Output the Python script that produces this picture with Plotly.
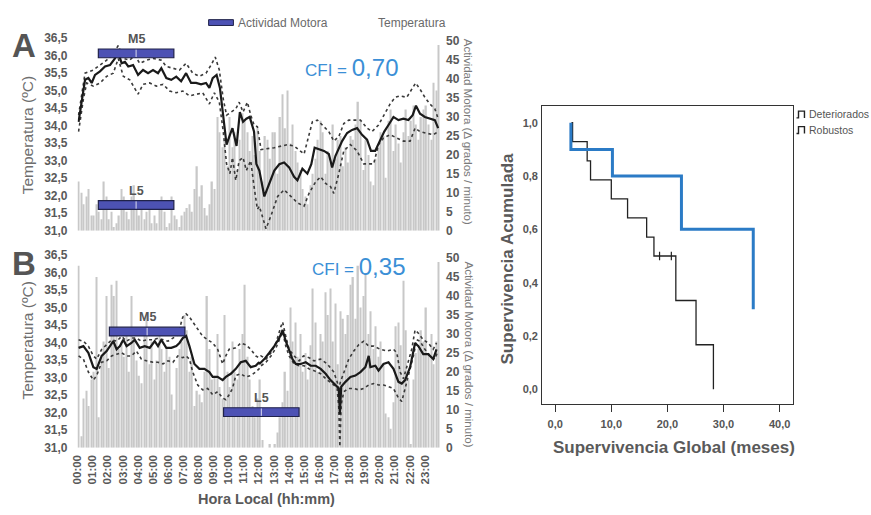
import plotly.graph_objects as go

W, H = 871, 515
def px(x): return x / W
def py(y): return 1 - y / H

FONT = "Liberation Sans, Arial, sans-serif"

# ---------------- DATA ----------------
hour_labels = ["00:00", "01:00", "02:00", "03:00", "04:00", "05:00", "06:00", "07:00",
               "08:00", "09:00", "10:00", "11:00", "12:00", "13:00", "14:00", "15:00",
               "16:00", "17:00", "18:00", "19:00", "20:00", "21:00", "22:00", "23:00"]

# motor activity (grados/minuto), 10-min slots, panel A
act_a = [13, 10, 7, 9, 11, 4,   4, 7, 5, 3, 13, 9,   3, 5, 1, 2, 4, 11,   9, 5, 3, 9, 12, 7,
         4, 6, 3, 5, 7, 2,      4, 2, 6, 9, 5, 1,    2, 9, 4, 3, 1, 4,    5, 6, 7, 5, 11, 17,
         9, 12, 6, 4, 7, 13,    11, 30, 26, 22, 24, 17,  30, 22, 26, 16, 24, 31,  29, 26, 21, 25, 20, 27,
         21, 13, 25, 24, 19, 26,  26, 15, 30, 36, 27, 37,  23, 28, 21, 18, 16, 11,  9, 7, 12, 15, 19, 24,
         29, 26, 15, 21, 18, 28,  19, 24, 25, 17, 22, 18,  25, 24, 28, 34, 29, 16,  24, 20, 13, 12, 19, 22,
         26, 25, 14, 29, 32, 21,  28, 23, 18, 26, 32, 25,  29, 33, 28, 24, 30, 32,  33, 28, 24, 39, 37, 49]

# motor activity, panel B
act_b = [48, 3, 13, 15, 11, 18,  20, 45, 8, 24, 28, 40,  21, 43, 40, 44, 26, 28,  24, 31, 20, 40, 29, 23,
         19, 17, 30, 35, 22, 28,  18, 23, 30, 26, 20, 26,  24, 14, 10, 21, 26, 28,  35, 31, 20, 24, 11, 15,
         14, 12, 20, 40, 26, 18,  19, 30, 16, 13, 35, 20,  16, 28, 20, 18, 26, 30,  43, 24, 18, 11, 8, 13,
         18, 2, 0, 0, 1, 0,       1, 4, 8, 12, 20, 15,     37, 28, 33, 24, 30, 20,  25, 18, 27, 42, 33, 20,
         30, 28, 41, 35, 42, 28,  38, 22, 36, 34, 30, 35,  43, 45, 34, 48, 37, 40,  46, 30, 36, 26, 32, 24,
         28, 22, 9, 8, 5, 12,     32, 33, 27, 44, 31, 18,  1, 18, 25, 26, 31, 28,   37, 25, 30, 22, 28, 49]

# Panel A temperature: mean, upper and lower band (hour, degC)
a_mean_h = [0.07, 0.29, 0.50, 0.72, 0.94, 1.16, 1.49, 1.82, 2.15, 2.48, 2.70, 2.92, 3.14, 3.36, 3.68,
            4.01, 4.34, 4.67, 5.00, 5.33, 5.55, 5.88, 6.21, 6.54, 6.86, 7.19, 7.52, 7.85, 8.18, 8.51,
            8.73, 8.95, 9.21, 9.43, 9.65, 9.87, 10.09, 10.26, 10.53, 10.75, 10.96, 11.18, 11.40, 11.69, 11.84,
            12.04, 12.37, 12.70, 13.03, 13.36, 13.68, 14.01, 14.34, 14.56, 14.89, 15.22, 15.48, 15.70, 15.99,
            16.32, 16.64, 16.86, 17.08, 17.30, 17.52, 17.85, 18.18, 18.51, 18.84, 19.17, 19.43, 19.71, 20.00,
            20.31, 20.59, 20.92, 21.25, 21.58, 21.91, 22.19, 22.41, 22.68, 23.00, 23.33, 23.66, 23.88]
a_mean_t = [34.11, 34.67, 35.31, 35.36, 35.22, 35.45, 35.55, 35.69, 35.73, 35.92, 36.10, 35.78, 35.82, 35.69, 35.73,
            35.45, 35.59, 35.50, 35.59, 35.50, 35.64, 35.36, 35.31, 35.40, 35.27, 35.50, 35.22, 35.22, 35.18, 35.22,
            35.08, 35.36, 35.45, 35.08, 34.30, 33.46, 33.74, 33.93, 33.42, 34.39, 34.11, 34.20, 34.25, 33.83, 32.91,
            32.72, 31.98, 32.35, 32.72, 32.90, 32.95, 32.81, 32.54, 32.44, 32.77, 32.63, 32.90, 33.37, 33.32,
            33.28, 33.19, 32.81, 33.14, 33.37, 33.56, 33.79, 33.88, 33.93, 33.74, 33.60, 33.28, 33.28, 33.56,
            33.83, 34.02, 34.25, 34.16, 34.20, 34.16, 34.30, 34.57, 34.34, 34.25, 34.20, 34.16, 33.93]
a_up_h = [0.07, 0.50, 1.05, 1.49, 1.93, 2.37, 2.70, 3.03, 3.46, 3.79, 4.12, 4.56, 5.00, 5.55, 5.88, 6.32, 6.75,
          7.19, 7.63, 8.07, 8.51, 8.84, 9.12, 9.39, 9.65, 9.87, 10.15, 10.48, 10.70, 10.96, 11.25, 11.47, 11.69, 11.91,
          12.15, 13.03, 13.90, 14.34, 15.00, 15.55, 15.88, 16.32, 16.64, 16.97, 17.30, 17.63, 17.96, 18.29, 18.73,
          19.17, 19.50, 19.93, 20.37, 20.70, 21.03, 21.36, 21.80, 22.13, 22.39, 22.68, 23.00, 23.33, 23.66, 23.88]
a_up_t = [34.30, 35.50, 35.59, 35.73, 35.87, 36.06, 36.29, 35.92, 35.87, 36.01, 35.78, 35.87, 35.92, 35.87, 35.69, 35.64, 35.59,
          35.78, 35.50, 35.41, 35.50, 35.73, 35.96, 35.59, 34.76, 34.30, 34.39, 34.48, 34.67, 34.39, 34.67, 34.30, 34.02, 33.97,
          33.32, 33.37, 33.46, 33.42, 33.19, 34.11, 34.16, 33.97, 33.83, 33.56, 33.69, 34.06, 34.16, 34.16, 34.16,
          33.93, 33.83, 34.02, 34.39, 34.62, 34.81, 34.85, 34.81, 35.04, 35.22, 35.04, 34.81, 34.62, 34.48, 34.20]
a_lo_h = [0.07, 0.39, 0.61, 1.05, 1.49, 1.93, 2.37, 2.70, 3.03, 3.46, 4.01, 4.34, 4.78, 5.22, 5.66, 6.10, 6.54, 6.97,
          7.41, 7.85, 8.29, 8.73, 9.06, 9.39, 9.65, 9.87, 10.09, 10.26, 10.48, 10.70, 10.96, 11.18, 11.47, 11.69, 11.91,
          12.04, 12.48, 12.81, 13.25, 13.68, 14.12, 14.56, 15.00, 15.33, 15.77, 16.10, 16.43, 16.75, 16.97, 17.30, 17.63,
          18.07, 18.51, 18.95, 19.28, 19.61, 19.93, 20.26, 20.70, 21.14, 21.58, 22.02, 22.35, 22.68, 23.11, 23.55, 23.88]
a_lo_t = [33.83, 34.76, 35.22, 35.13, 35.22, 35.41, 35.50, 35.92, 35.41, 35.31, 34.90, 35.18, 35.22, 35.13, 35.18, 34.99, 34.94, 34.99,
          34.85, 34.90, 34.94, 34.62, 34.94, 34.67, 33.83, 32.91, 32.63, 33.09, 32.44, 33.00, 33.09, 32.72, 33.00, 32.26, 31.61,
          31.70, 31.06, 31.43, 31.98, 32.17, 31.98, 31.80, 31.70, 32.07, 32.40, 32.54, 32.35, 32.26, 32.07, 32.63, 33.28,
          33.46, 33.28, 32.91, 32.91, 32.91, 33.46, 33.65, 33.74, 33.65, 33.56, 33.56, 33.93, 33.83, 33.79, 33.74, 33.83]

# Panel B temperature
b_mean_h = [0.07, 0.39, 0.72, 1.05, 1.27, 1.60, 1.93, 2.15, 2.37, 2.59, 2.81, 3.03, 3.25, 3.57, 3.79, 4.12, 4.45,
            4.78, 5.11, 5.33, 5.55, 5.88, 6.21, 6.54, 6.75, 6.97, 7.19, 7.41, 7.74, 8.07, 8.40, 8.73, 8.95, 9.28,
            9.61, 9.82, 10.15, 10.48, 10.81, 11.14, 11.47, 11.80, 12.02,
            12.04, 12.37, 12.70, 13.03, 13.36, 13.58, 13.79, 14.01, 14.23, 14.45, 14.78, 15.11, 15.44, 15.77,
            16.10, 16.43, 16.75, 17.08, 17.30, 17.37, 17.46, 17.74, 18.07, 18.40, 18.73, 19.06, 19.28, 19.39,
            19.72, 19.93, 20.26, 20.59, 20.92, 21.25, 21.47, 21.69, 22.02, 22.35, 22.57, 22.89, 23.22, 23.55, 23.77]
b_mean_t = [33.85, 33.90, 33.71, 33.30, 33.25, 33.62, 33.76, 33.90, 34.04, 33.81, 33.90, 34.08, 33.90, 33.99, 34.08, 33.85, 33.90,
            33.85, 34.04, 33.90, 34.08, 33.85, 33.85, 33.90, 33.99, 34.13, 34.19, 33.90, 33.39, 33.25, 33.25, 33.16, 33.02, 33.02,
            32.93, 33.02, 33.11, 33.25, 33.44, 33.48, 33.30, 33.34, 33.44,
            33.39, 33.53, 33.71, 33.90, 34.13, 34.36, 34.04, 33.81, 33.53, 33.39, 33.39, 33.44, 33.34, 33.34,
            33.25, 33.11, 32.93, 32.79, 32.69, 31.95, 32.74, 32.88, 33.02, 33.06, 33.16, 33.30, 33.62, 33.30,
            33.34, 33.20, 33.39, 33.44, 33.25, 32.88, 32.83, 32.93, 33.30, 33.99, 33.90, 33.67, 33.67, 33.53, 33.81]
b_up_h = [0.07, 0.39, 0.72, 1.05, 1.27, 1.60, 1.93, 2.26, 2.59, 2.92, 3.25, 3.57, 3.90, 4.23, 4.56, 5.00, 5.33, 5.66,
          5.99, 6.32, 6.64, 6.97, 7.19, 7.41, 7.63, 7.96, 8.29, 8.62, 8.95, 9.28, 9.61, 9.82, 10.04, 10.48, 10.81, 11.14,
          11.47, 11.80, 12.02,
          12.15, 12.48, 12.81, 13.14, 13.46, 13.58, 13.79, 14.01, 14.34, 14.67, 14.96, 15.33, 15.66, 16.10, 16.54, 16.97,
          17.19, 17.30, 17.41, 17.63, 17.96, 18.29, 18.62, 18.95, 19.28, 19.61, 20.04, 20.48, 20.92, 21.14, 21.36, 21.58,
          21.80, 22.13, 22.35, 22.57, 22.89, 23.22, 23.55, 23.77]
b_up_t = [34.08, 34.04, 33.90, 33.62, 33.53, 33.81, 33.94, 34.08, 34.04, 34.18, 34.04, 34.13, 34.13, 34.04, 34.08, 34.08, 34.13, 34.08,
          34.04, 34.13, 34.22, 34.73, 34.82, 34.73, 34.59, 34.36, 34.18, 34.08, 33.99, 33.81, 33.39, 33.62, 33.81, 33.85, 33.99, 33.94,
          33.81, 33.62, 33.57,
          33.62, 33.53, 33.71, 33.99, 34.45, 34.59, 34.18, 33.81, 33.62, 33.48, 33.62, 33.57, 33.48, 33.53, 33.39, 33.16,
          32.88, 32.69, 32.88, 33.16, 33.53, 33.76, 33.94, 34.04, 33.90, 33.90, 33.81, 33.76, 33.81, 33.71, 33.16, 32.97,
          33.34, 33.81, 34.36, 34.27, 34.08, 33.99, 33.81, 33.99]
b_lo_h = [0.07, 0.39, 0.72, 1.05, 1.27, 1.60, 1.93, 2.26, 2.59, 2.92, 3.25, 3.57, 3.90, 4.23, 4.56, 5.00, 5.33, 5.66,
          5.99, 6.32, 6.64, 6.97, 7.19, 7.41, 7.63, 7.96, 8.29, 8.62, 8.95, 9.28, 9.61, 9.82, 10.04, 10.26, 10.48, 10.81,
          11.14, 11.47, 11.80, 12.02,
          12.15, 12.48, 12.81, 13.14, 13.46, 13.58, 13.79, 14.01, 14.34, 14.67, 15.00, 15.33, 15.66, 16.10, 16.54, 16.97,
          17.19, 17.30, 17.37, 17.46, 17.63, 17.96, 18.29, 18.62, 18.95, 19.28, 19.61, 19.93, 20.26, 20.59, 20.92, 21.25,
          21.47, 21.69, 21.91, 22.24, 22.46, 22.68, 23.00, 23.33, 23.66, 23.82]
b_lo_t = [33.62, 33.53, 33.16, 32.93, 33.06, 33.44, 33.48, 33.62, 33.67, 33.71, 33.62, 33.62, 33.76, 33.53, 33.48, 33.44, 33.44, 33.39,
          33.48, 33.44, 33.62, 33.57, 33.62, 33.53, 33.16, 32.79, 32.65, 32.69, 32.51, 32.60, 32.42, 32.37, 32.51, 32.69, 33.06, 33.11,
          33.02, 33.06, 33.16, 33.25,
          33.34, 33.44, 33.62, 33.85, 34.18, 34.31, 33.90, 33.62, 33.39, 33.34, 33.34, 33.25, 33.20, 33.11, 32.93, 32.79,
          32.69, 32.14, 31.03, 32.23, 32.60, 32.69, 32.69, 32.65, 32.69, 32.79, 32.83, 32.79, 32.79, 32.74, 32.69, 32.42,
          32.32, 32.69, 33.06, 33.62, 34.08, 34.04, 33.81, 33.62, 33.53, 33.71]

# M5 / L5 window start hours (5-hour windows)
m5_start = {"A": 1.38, "B": 2.11}
l5_start = {"A": 1.38, "B": 9.67}
window_len = 5.0
cfi = {"A": "0,70", "B": "0,35"}

# Kaplan-Meier curves (months, cumulative survival)
det_t = [2.9, 3.1, 5.7, 6.3, 10.0, 12.9, 16.3, 17.6, 21.5, 25.1, 28.2]
det_s = [1.0, 0.929, 0.857, 0.786, 0.714, 0.643, 0.571, 0.5, 0.333, 0.167, 0.0]
det_cens_t = [18.6, 20.7]
det_cens_s = [0.5, 0.5]
rob_t = [2.8, 2.8, 10.2, 22.5, 35.3]
rob_s = [1.0, 0.9, 0.8, 0.6, 0.3]

# ---------------- FIGURE ----------------
slot_hours = [i / 6 + 1 / 12 for i in range(len(act_a))]
BAR_C = "#c8c8c8"
fig = go.Figure()

def add_panel(acts, mh, mt, uh, ut, lh, lt, xa, ybar, ytemp):
    fig.add_trace(go.Bar(x=slot_hours, y=acts, xaxis=xa, yaxis=ybar, width=0.09,
                         marker=dict(color=BAR_C, line=dict(width=0)), showlegend=False))
    for hh, tt in ((uh, ut), (lh, lt)):
        fig.add_trace(go.Scatter(x=hh, y=tt, xaxis=xa, yaxis=ytemp, mode="lines",
                                 line=dict(color="#3a3a3a", width=1.6, dash="dot"), showlegend=False))
    fig.add_trace(go.Scatter(x=mh, y=mt, xaxis=xa, yaxis=ytemp, mode="lines",
                             line=dict(color="#1a1a1a", width=2.2), showlegend=False))

add_panel(act_a, a_mean_h, a_mean_t, a_up_h, a_up_t, a_lo_h, a_lo_t, "x", "y", "y2")
add_panel(act_b, b_mean_h, b_mean_t, b_up_h, b_up_t, b_lo_h, b_lo_t, "x2", "y3", "y4")

# KM
fig.add_trace(go.Scatter(x=det_t, y=det_s, xaxis="x3", yaxis="y5", mode="lines", line_shape="hv",
                         line=dict(color="#222222", width=1.3), showlegend=False))
fig.add_trace(go.Scatter(x=det_cens_t, y=det_cens_s, xaxis="x3", yaxis="y5", mode="markers",
                         marker=dict(symbol="line-ns", size=6, line=dict(color="#222222", width=1.2)),
                         showlegend=False))
fig.add_trace(go.Scatter(x=rob_t, y=rob_s, xaxis="x3", yaxis="y5", mode="lines", line_shape="hv",
                         line=dict(color="#2b7bc6", width=3), showlegend=False))

TICK = dict(family=FONT, size=12, color="#595959", weight="bold")
common = dict(showgrid=False, zeroline=False, showline=False)

layout = dict(
    width=W, height=H, autosize=False, margin=dict(l=0, r=0, t=0, b=0),
    paper_bgcolor="white", plot_bgcolor="rgba(0,0,0,0)", separators=", ",
    barmode="overlay", font=dict(family=FONT),
    xaxis=dict(domain=[px(72), px(437)], range=[0, 24], anchor="y", showticklabels=False, ticks="", **common),
    yaxis=dict(domain=[py(230), py(32)], range=[0, 50.8], side="right", anchor="x",
               tickvals=list(range(0, 55, 5)), tickfont=TICK, ticks="", ticklabelstandoff=5, **common),
    yaxis2=dict(overlaying="y", side="left", range=[31, 36.5], anchor="x",
                tickvals=[31 + 0.5 * k for k in range(12)], tickformat=".1f", tickfont=TICK,
                ticks="", ticklabelstandoff=9, **common),
    xaxis2=dict(domain=[px(72), px(437)], range=[0, 24], anchor="y3", tickvals=list(range(24)),
                ticktext=hour_labels, tickangle=-90, tickfont=dict(family=FONT, size=11.5, color="#595959", weight="bold"),
                ticks="", ticklabelstandoff=4, **common),
    yaxis3=dict(domain=[py(453), py(255)], range=[0, 50.8], side="right", anchor="x2",
                tickvals=list(range(0, 55, 5)), tickfont=TICK, ticks="", ticklabelstandoff=5, **common),
    yaxis4=dict(overlaying="y3", side="left", range=[31, 36.5], anchor="x2",
                tickvals=[31 + 0.5 * k for k in range(12)], tickformat=".1f", tickfont=TICK,
                ticks="", ticklabelstandoff=9, **common),
    xaxis3=dict(domain=[px(540), px(792)], range=[-2.3, 42.3], anchor="y5", tickvals=[0, 10, 20, 30, 40],
                tickformat=".1f", ticks="outside", ticklen=7, tickcolor="#333", tickwidth=1.2,
                tickfont=dict(family=FONT, size=11, color="#555", weight="bold"), ticklabelstandoff=3,
                showline=True, mirror=True, linecolor="#333", linewidth=1.2, showgrid=False, zeroline=False),
    yaxis5=dict(domain=[py(408), py(102)], range=[-0.055, 1.062], anchor="x3", tickvals=[0, 0.2, 0.4, 0.6, 0.8, 1.0],
                tickformat=".1f", ticks="", ticklabelstandoff=1,
                tickfont=dict(family=FONT, size=11, color="#555", weight="bold"),
                showline=True, mirror=True, linecolor="#333", linewidth=1.2, showgrid=False, zeroline=False),
)
fig.update_layout(**layout)

shapes = []
annots = []
BAR_FILL = "#4d52b4"
BAR_EDGE = "#20224a"

def note(**kw):
    d = dict(showarrow=False, xanchor="center", yanchor="middle")
    d.update(kw)
    annots.append(d)

# M5 / L5 bars in temperature coordinates (position only)
bar_specs = [
    ("A", "M5", m5_start["A"], 35.94, "x", "y2"),
    ("A", "L5", l5_start["A"], 31.61, "x", "y2"),
    ("B", "M5", m5_start["B"], 34.19, "x2", "y4"),
    ("B", "L5", l5_start["B"], 31.89, "x2", "y4"),
]
for panel, lab, x0, y0, xr, yr in bar_specs:
    x1 = x0 + window_len
    shapes.append(dict(type="rect", xref=xr, yref=yr, x0=x0, x1=x1, y0=y0, y1=y0 + 0.25,
                       fillcolor=BAR_FILL, line=dict(color=BAR_EDGE, width=1.2), layer="above"))
    xm = (x0 + x1) / 2
    shapes.append(dict(type="line", xref=xr, yref=yr, x0=xm, x1=xm, y0=y0 + 0.02, y1=y0 + 0.23,
                       line=dict(color="rgba(255,255,255,0.8)", width=1), layer="above"))
    note(xref=xr, yref=yr, x=xm, y=y0 + 0.25, text=lab, yanchor="bottom", yshift=1,
         font=dict(family=FONT, size=12.5, color="#555", weight="bold"))

# panel letters
for lab, y in (("A", 40), ("B", 264)):
    note(xref="paper", yref="paper", x=px(18), y=py(y), text=lab,
         font=dict(family=FONT, size=33, color="#555", weight="bold"))
# CFI
for key, x, y in (("A", 299, 62), ("B", 306, 267)):
    note(xref="paper", yref="paper", x=px(x), y=py(y), xanchor="left",
         text="CFI = <span style='font-size:24px'>" + cfi[key] + "</span>",
         font=dict(family=FONT, size=17, color="#3b8fd6"))
# Y titles
for yc in (131, 342):
    note(xref="paper", yref="paper", x=px(22), y=py(yc), text="Temperatura (ºC)", textangle=-90,
         font=dict(family=FONT, size=15.5, color="#6e6e6e"))
for yc in (128, 357):
    note(xref="paper", yref="paper", x=px(466), y=py(yc), text="Actividad Motora (Δ grados / minuto)",
         textangle=90, font=dict(family=FONT, size=11.5, color="#7a7a7a"))
note(xref="paper", yref="paper", x=px(262), y=py(506), text="Hora Local (hh:mm)",
     font=dict(family=FONT, size=14.5, color="#595959", weight="bold"))
# top legend
shapes.append(dict(type="rect", xref="paper", yref="paper", x0=px(204), x1=px(229), y0=py(19), y1=py(13),
                   fillcolor=BAR_FILL, line=dict(color=BAR_EDGE, width=1)))
note(xref="paper", yref="paper", x=px(232), y=py(16), xanchor="left", text="Actividad Motora",
     font=dict(family=FONT, size=12, color="#6a6a6a"))
note(xref="paper", yref="paper", x=px(373), y=py(16), xanchor="left", text="Temperatura",
     font=dict(family=FONT, size=12, color="#6a6a6a"))

# KM titles
note(xref="paper", yref="paper", x=px(505), y=py(259), text="Supervivencia Acumulada", textangle=-90,
     font=dict(family=FONT, size=17, color="#5a5a5a", weight="bold"))
note(xref="paper", yref="paper", x=px(673), y=py(453), text="Supervivencia Global (meses)",
     font=dict(family=FONT, size=17, color="#5a5a5a", weight="bold"))
# KM legend
for txt, yc in (("Deteriorados", 110), ("Robustos", 126)):
    gx = 796
    path = (f"M {px(gx)} {py(yc + 4)} L {px(gx + 2)} {py(yc + 4)} L {px(gx + 2)} {py(yc - 3)} "
            f"L {px(gx + 8)} {py(yc - 3)} L {px(gx + 8)} {py(yc + 4)}")
    shapes.append(dict(type="path", xref="paper", yref="paper", path=path, line=dict(color="#222", width=1.4)))
    note(xref="paper", yref="paper", x=px(807), y=py(yc), xanchor="left", text=txt,
         font=dict(family=FONT, size=10.5, color="#555"))

fig.update_layout(shapes=shapes, annotations=annots)
fig.write_html("out.html")
